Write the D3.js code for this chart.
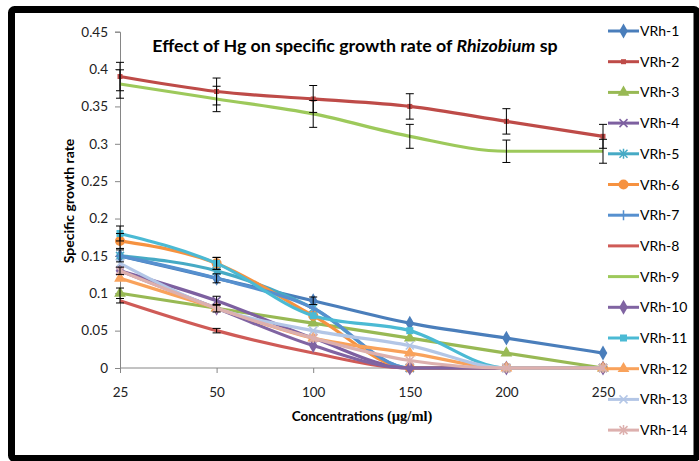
<!DOCTYPE html>
<html>
<head>
<meta charset="utf-8">
<script src="https://cdn.jsdelivr.net/npm/d3@7"></script>
<style>
  html, body { margin: 0; padding: 0; background: #fff; }
  svg { display: block; }
</style>
</head>
<body>
<svg id="chart" width="699" height="461"></svg>
<script>
// ---------- DATA ----------
const categories = ["25", "50", "100", "150", "200", "250"];
const yTicks = [0, 0.05, 0.1, 0.15, 0.2, 0.25, 0.3, 0.35, 0.4, 0.45];
const yTickLabels = ["0", "0.05", "0.1", "0.15", "0.2", "0.25", "0.3", "0.35", "0.4", "0.45"];
const seriesNames = ["VRh-1","VRh-2","VRh-3","VRh-4","VRh-5","VRh-6","VRh-7","VRh-8","VRh-9","VRh-10","VRh-11","VRh-12","VRh-13","VRh-14"];

const vrh1  = [0.15, 0.12, 0.09, 0.06, 0.04, 0.02];
const vrh2  = [0.39, 0.37, 0.36, 0.35, 0.33, 0.31];
const vrh3  = [0.10, 0.08, 0.06, 0.04, 0.02, 0];
const vrh4  = [0.13, 0.09, 0.04, 0, 0, 0];
const vrh5  = [0.15, 0.13, 0.08, 0, 0, 0];
const vrh6  = [0.17, 0.14, 0.07, 0, 0, 0];
const vrh7  = [0.15, 0.12, 0.08, 0, 0, 0];
const vrh8  = [0.09, 0.05, 0.02, 0, 0, 0];
const vrh9  = [0.38, 0.36, 0.34, 0.31, 0.29, 0.29];
const vrh10 = [0.13, 0.08, 0.03, 0, 0, 0];
const vrh11 = [0.18, 0.14, 0.07, 0.05, 0, 0];
const vrh12 = [0.12, 0.08, 0.04, 0.02, 0, 0];
const vrh13 = [0.14, 0.08, 0.05, 0.03, 0, 0];
const vrh14 = [0.13, 0.08, 0.04, 0.01, 0, 0];

// error bar half-widths (standard deviation)
const err1  = [0.008, 0.006, 0.005, 0, 0, 0];
const err2  = [0.019, 0.018, 0.018, 0.017, 0.017, 0.016];
const err3  = [0.007, 0.005, 0, 0, 0, 0];
const err4  = [0.005, 0.006, 0, 0, 0, 0];
const err6  = [0.01, 0.008, 0, 0, 0, 0];
const err8  = [0.003, 0.003, 0, 0, 0, 0];
const err9  = [0.019, 0.017, 0.018, 0.016, 0.015, 0.016];
const err11 = [0.01, 0.008, 0, 0, 0, 0];

const seriesValues = [vrh1, vrh2, vrh3, vrh4, vrh5, vrh6, vrh7, vrh8, vrh9, vrh10, vrh11, vrh12, vrh13, vrh14];
const seriesErrors = [err1, err2, err3, err4, null, err6, null, err8, err9, null, err11, null, null, null];
const seriesColors = ["#4A7EBB","#BE4B48","#98B954","#7D60A0","#46AAC5","#F69240","#5690CF","#CF5B57","#9DC95B","#8064A2","#4BBAD4","#F9A25B","#B3C6E6","#DDB0AE"];
const seriesMarkers = ["diamond","square-s","triangle","x","star","circle","plus","none","none","diamond","square","triangle","x","star"];

// ---------- LAYOUT ----------
const svg = d3.select("#chart");
const x = d3.scalePoint().domain(categories).range([120, 603]);
const y = d3.scaleLinear().domain([0, 0.45]).range([368, 31.7]);
const FONT = "Lato, 'Open Sans', sans-serif";

// frame
svg.append("rect")
  .attr("x", 11.5).attr("y", 9.5).attr("width", 685.5).attr("height", 449)
  .attr("rx", 3).attr("fill", "#fff").attr("stroke", "#000").attr("stroke-width", 7);

// Title
const title = svg.append("text")
  .attr("x", 355).attr("y", 52).attr("text-anchor", "middle")
  .attr("font-family", FONT).attr("font-weight", "bold").attr("font-size", 17.8).attr("fill", "#000");
title.append("tspan").text("Effect of Hg on specific growth rate of ");
title.append("tspan").attr("font-style", "italic").text("Rhizobium");
title.append("tspan").text(" sp");

// Y axis
const yAxis = d3.axisLeft(y).tickValues(yTicks).tickSize(5).tickFormat((d, i) => yTickLabels[i]);
const gy = svg.append("g").attr("transform", "translate(120,0)").call(yAxis);
gy.select(".domain").attr("stroke", "#868686");
gy.selectAll(".tick line").attr("stroke", "#868686");
gy.selectAll(".tick text").attr("font-family", FONT).attr("font-size", 13.5).attr("fill", "#222").attr("x", -12);

// X axis
const xAxis = d3.axisBottom(x).tickSize(5).tickSizeOuter(0);
const gx = svg.append("g").attr("transform", "translate(0,368)").call(xAxis);
gx.select(".domain").attr("stroke", "#868686").attr("d", "M120,0H607");
gx.selectAll(".tick line").attr("stroke", "#868686");
gx.selectAll(".tick text").attr("font-family", FONT).attr("font-size", 13.5).attr("fill", "#222").attr("y", 19);

// axis titles
const xt = svg.append("text").attr("x", 362).attr("y", 421).attr("text-anchor", "middle")
  .attr("font-family", FONT).attr("font-weight", "bold").attr("font-size", 13.5).attr("fill", "#000");
xt.append("tspan").text("Concentrations ");
xt.append("tspan").attr("font-family", "'Liberation Serif', serif").attr("font-size", 14.5).text("(µg/ml)");

svg.append("text").attr("transform", "translate(74,201) rotate(-90)").attr("text-anchor", "middle")
  .attr("font-family", FONT).attr("font-weight", "bold").attr("font-size", 14).attr("fill", "#000")
  .text("Specific growth rate");

// marker drawer
function drawMarker(g, type, color) {
  switch (type) {
    case "diamond":
      g.append("path").attr("d", d3.symbol(d3.symbolDiamond, 64)()).attr("fill", color); break;
    case "square":
      g.append("rect").attr("x", -3.5).attr("y", -3.5).attr("width", 7).attr("height", 7).attr("fill", color); break;
    case "square-s":
      g.append("rect").attr("x", -2.5).attr("y", -2.5).attr("width", 5).attr("height", 5).attr("fill", color); break;
    case "triangle":
      g.append("path").attr("d", d3.symbol(d3.symbolTriangle, 60)()).attr("fill", color); break;
    case "circle":
      g.append("circle").attr("r", 5).attr("fill", color); break;
    case "x":
      g.append("path").attr("d", "M-4,-4L4,4M-4,4L4,-4").attr("stroke", color).attr("stroke-width", 1.5).attr("fill", "none"); break;
    case "star":
      g.append("path").attr("d", "M-4,-4L4,4M-4,4L4,-4M0,-5V5").attr("stroke", color).attr("stroke-width", 1.5).attr("fill", "none"); break;
    case "plus":
      g.append("path").attr("d", "M0,-5V5M-4,0H4").attr("stroke", color).attr("stroke-width", 1.5).attr("fill", "none"); break;
  }
}

// series lines
const line = d3.line().x((d, i) => x(categories[i])).y(d => y(d)).curve(d3.curveMonotoneX);
const plot = svg.append("g");
seriesValues.forEach((vals, s) => {
  const g = plot.append("g");
  g.append("path").datum(vals).attr("d", line).attr("fill", "none")
    .attr("stroke", seriesColors[s]).attr("stroke-width", 3.2).attr("stroke-linejoin", "round");
  vals.forEach((v, i) => {
    const m = g.append("g").attr("transform", `translate(${x(categories[i])},${y(v)})`);
    drawMarker(m, seriesMarkers[s], seriesColors[s]);
  });
});

// error bars
const eb = svg.append("g").attr("stroke", "#000").attr("stroke-width", 1);
seriesValues.forEach((vals, s) => {
  const errs = seriesErrors[s];
  if (!errs) return;
  vals.forEach((v, i) => {
    const e = errs[i];
    if (!e) return;
    const cx = x(categories[i]);
    const y1 = y(v + e), y2 = y(v - e);
    eb.append("line").attr("x1", cx).attr("x2", cx).attr("y1", y1).attr("y2", y2);
    eb.append("line").attr("x1", cx - 4).attr("x2", cx + 4).attr("y1", y1).attr("y2", y1);
    eb.append("line").attr("x1", cx - 4).attr("x2", cx + 4).attr("y1", y2).attr("y2", y2);
  });
});

// legend
const legend = svg.append("g");
seriesNames.forEach((name, s) => {
  const ly = 31 + s * 30.7;
  const g = legend.append("g").attr("transform", `translate(0,${ly})`);
  g.append("line").attr("x1", 608).attr("x2", 639).attr("y1", 0).attr("y2", 0)
    .attr("stroke", seriesColors[s]).attr("stroke-width", 3);
  const m = g.append("g").attr("transform", "translate(623.5,0)");
  drawMarker(m, seriesMarkers[s], seriesColors[s]);
  g.append("text").attr("x", 640).attr("y", 5).attr("font-family", FONT).attr("font-size", 14)
    .attr("fill", "#000").text(name);
});
</script>
</body>
</html>
